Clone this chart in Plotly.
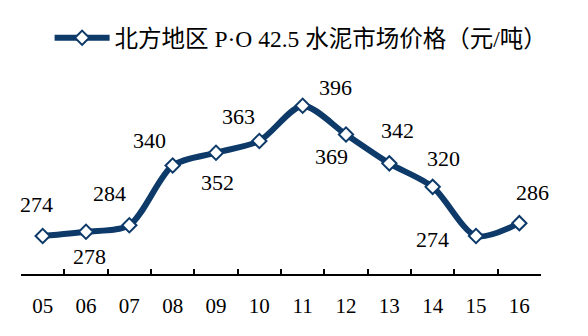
import plotly.graph_objects as go

years = ["05", "06", "07", "08", "09", "10", "11", "12", "13", "14", "15", "16"]
prices = [274, 278, 284, 340, 352, 363, 396, 369, 342, 320, 274, 286]
series_name = "北方地区 P·O 42.5 水泥市场价格（元/吨）"

# label offsets (px) for each data label: (dx, dy)
label_offsets = [(-6, 31), (3, -25), (-20, 32), (-23, 25), (1, -30), (-21, 24),
                 (33, 18), (-15, -22), (8, 33), (11, 28), (-44, -4), (13, 31)]

NAVY = "#0D3A69"
FONT = "Liberation Serif, Noto Sans CJK SC, serif"

fig = go.Figure()
fig.add_trace(go.Scatter(
    x=years, y=prices, name=series_name,
    mode="lines+markers",
    line=dict(color=NAVY, width=6, shape="spline", smoothing=0.8),
    marker=dict(symbol="diamond", size=11, color="white",
                line=dict(color=NAVY, width=2)),
    showlegend=True,
))

for i, (v, (dx, dy)) in enumerate(zip(prices, label_offsets)):
    fig.add_annotation(x=i, y=v, xref="x", yref="y", text=str(v),
                       showarrow=False, xshift=dx, yshift=dy,
                       font=dict(family=FONT, size=22, color="black"))

fig.update_layout(
    width=588, height=336,
    margin=dict(l=21, r=47, t=60, b=62),
    paper_bgcolor="white", plot_bgcolor="white",
    font=dict(family=FONT, size=21, color="black"),
    showlegend=True,
    legend=dict(x=0.055, y=1.103, xanchor="left", yanchor="middle",
                orientation="h", itemwidth=55,
                font=dict(family=FONT, size=23.5, color="black"),
                bgcolor="rgba(0,0,0,0)"),
    xaxis=dict(type="category", tickson="boundaries", ticks="inside",
               ticklen=5, tickwidth=1.5, tickcolor="black",
               showline=True, linecolor="black", linewidth=1.5,
               showgrid=False, zeroline=False, ticklabelstandoff=12,
               range=[-0.5, 11.5],
               tickfont=dict(family=FONT, size=21, color="black")),
    yaxis=dict(range=[238.4, 438.8], visible=False, showgrid=False,
               zeroline=False),
)

fig.write_html("out.html")
